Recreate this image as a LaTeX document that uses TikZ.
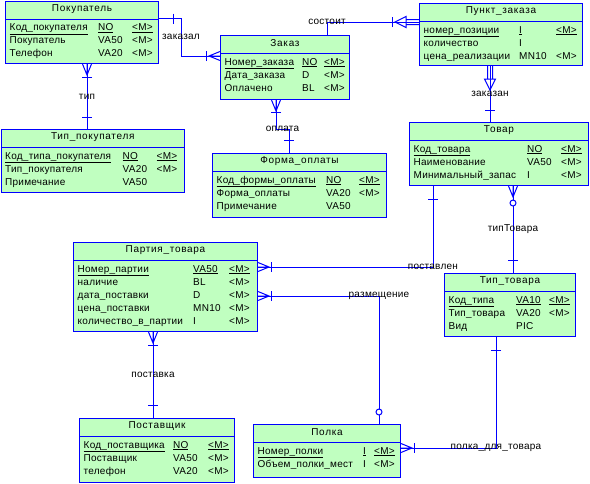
\documentclass[tikz,border=0pt]{standalone}
\usepackage{fontspec}
\setmainfont{Liberation Sans}[LetterSpace=2.5]
\newfontfamily\titlefont[LetterSpace=7]{Liberation Sans}
\definecolor{entfill}{RGB}{192,255,192}
\definecolor{erblue}{RGB}{0,0,255}
\tikzset{
	entity/.style={rectangle, fill=entfill, draw=erblue, line width=1pt, inner sep=0pt, anchor=north west},
	enttitle/.style={inner sep=0pt, font={\titlefont\fontsize{10}{12}\selectfont}},
	attr/.style={inner sep=0pt, anchor=base west, font=\fontsize{10}{12}\selectfont},
	rel/.style={draw=erblue, line width=1pt},
	rellabel/.style={inner sep=0pt, font=\fontsize{10}{12}\selectfont},
	pics/many/.style={code={\draw[rel] (0,-4.5) -- (11,0) -- (0,4.5) (0,0) -- (11,0);}},
	pics/one/.style={code={\draw[rel] (#1,-5) -- (#1,5);}},
	pics/ring/.style={code={\draw[rel, fill=white] (#1,0) circle (3pt);}},
	pics/dep/.style={code={\draw[rel] (0,-2.5) -- (13,-2.5) (0,2.5) -- (13,2.5) (13,-5.5) -- (13,5.5) -- (24,0) -- cycle;}}
}
% entity: name, top left, width, height, title, type column, <M> column, rows
\newcommand{\erentity}[8]{%
	\node[entity, minimum width=#3, minimum height=#4] (#1) at (#2) {};
	\node[enttitle] (#1-title) at ([yshift=-8.5]#1.north) {#5};
	\draw[rel] ([yshift=-18.5]#1.north west) -- ([yshift=-18.5]#1.north east);
	\foreach \eA/\eT/\eM [count=\i] in {#8} {
		\node[attr] (#1-a\i) at ([shift={(4.5,17+13*\i)}]#1.north west) {\eA};
		\node[attr] (#1-t\i) at ([shift={(#6,17+13*\i)}]#1.north west) {\eT};
		\node[attr] (#1-m\i) at ([shift={(#7,17+13*\i)}]#1.north west) {\eM};
	}
}
\begin{document}
\begin{tikzpicture}[x=1pt, y=-1pt]
	\useasboundingbox (0,0) rectangle (590,483);
	% entities
	\erentity{pokup}{5,0.5}{153}{62.5}{Покупатель}{93}{127}{\underline{Код\_покупателя}/\underline{NO}/\underline{<M>}, Покупатель/VA50/<M>, Телефон/VA20/<M>}
	\erentity{tippok}{0.5,129}{183.5}{63}{Тип\_покупателя}{122}{156}{\underline{Код\_типа\_покупателя}/\underline{NO}/\underline{<M>}, Тип\_покупателя/VA20/<M>, Примечание/VA50/{}}
	\erentity{zakaz}{220,35}{129}{64}{Заказ}{82}{104}{\underline{Номер\_заказа}/\underline{NO}/\underline{<M>}, Дата\_заказа/D/<M>, Оплачено/BL/<M>}
	\erentity{punkt}{419,3}{163}{62}{Пункт\_заказа}{100}{137}{\underline{номер\_позиции}/\underline{I}/\underline{<M>}, количество/I/{}, цена\_реализации/MN10/<M>}
	\erentity{forma}{212,153}{174}{64}{Форма\_оплаты}{114}{147}{\underline{Код\_формы\_оплаты}/\underline{NO}/\underline{<M>}, Форма\_оплаты/VA20/<M>, Примечание/VA50/{}}
	\erentity{tovar}{409,122}{179}{63}{Товар}{118}{152}{\underline{Код\_товара}/\underline{NO}/\underline{<M>}, Наименование/VA50/<M>, Минимальный\_запас/I/<M>}
	\erentity{partiya}{73,242}{184}{89}{Партия\_товара}{120}{156}{\underline{Номер\_партии}/\underline{VA50}/\underline{<M>}, наличие/BL/<M>, дата\_поставки/D/<M>, цена\_поставки/MN10/<M>, количество\_в\_партии/I/<M>}
	\erentity{tiptov}{444,273}{131}{63}{Тип\_товара}{72}{105}{\underline{Код\_типа}/\underline{VA10}/\underline{<M>}, Тип\_товара/VA20/<M>, Вид/PIC/{}}
	\erentity{postav}{79,418}{155}{64}{Поставщик}{94}{129}{\underline{Код\_поставщика}/\underline{NO}/\underline{<M>}, Поставщик/VA50/<M>, телефон/VA20/<M>}
	\erentity{polka}{253,424}{147}{53}{Полка}{110}{121}{\underline{Номер\_полки}/\underline{I}/\underline{<M>}, Объем\_полки\_мест/I/<M>}
	% заказал
	\coordinate (zkl-s) at ([yshift=-18]pokup.north east);
	\coordinate (zkl-e) at ([yshift=-21]zakaz.north west);
	\draw[rel] (zkl-s) -- ++(22,0) |- node[rellabel, pos=0.25]{заказал} (zkl-e);
	\path (zkl-s) pic{one=14} (zkl-e) pic[rotate=180]{many} pic[rotate=180]{one=14};
	% тип
	\coordinate (tip-s) at ([xshift=82]pokup.south west);
	\coordinate (tip-e) at (tip-s |- tippok.north);
	\draw[rel] (tip-s) -- node[rellabel]{тип} (tip-e);
	\path (tip-s) pic[rotate=-90]{many} pic[rotate=-90]{one=13} (tip-e) pic[rotate=90]{one=12};
	% состоит
	\coordinate (sst-s) at ([xshift=107]zakaz.north west);
	\coordinate (sst-e) at ([yshift=-19]punkt.north west);
	\draw[rel] (sst-s) |- node[rellabel, pos=0.5]{состоит} (sst-e);
	\path (sst-e) pic[rotate=180]{dep} pic[rotate=180]{one=27};
	% заказан
	\coordinate (zkn-s) at ([xshift=71]punkt.south west);
	\coordinate (zkn-e) at (zkn-s |- tovar.north);
	\draw[rel] (zkn-s) -- node[rellabel]{заказан} (zkn-e);
	\path (zkn-s) pic[rotate=-90]{dep} (zkn-e) pic[rotate=90]{one=12};
	% оплата
	\coordinate (opl-s) at ([xshift=56]zakaz.south west);
	\coordinate (opl-e) at ([xshift=77]forma.north west);
	\draw[rel] (opl-s) -- ++(0,29) -| node[rellabel, pos=0.25]{оплата} (opl-e);
	\path (opl-s) pic[rotate=-90]{many} pic[rotate=-90]{one=12} (opl-e) pic[rotate=90]{one=13};
	% типТовара
	\coordinate (ttv-s) at ([xshift=104]tovar.south west);
	\coordinate (ttv-e) at (ttv-s |- tiptov.north);
	\draw[rel] (ttv-s) -- node[rellabel]{типТовара} (ttv-e);
	\path (ttv-s) pic[rotate=-90]{many} pic[rotate=-90]{ring=17} (ttv-e) pic[rotate=90]{one=13};
	% поставлен
	\coordinate (pst-s) at ([xshift=24]tovar.south west);
	\coordinate (pst-e) at ([yshift=-25]partiya.north east);
	\draw[rel] (pst-s) |- node[rellabel, pos=0.5]{поставлен} (pst-e);
	\path (pst-s) pic[rotate=-90]{one=13} (pst-e) pic{many} pic{one=13};
	% размещение
	\coordinate (rzm-s) at ([yshift=-54]partiya.north east);
	\coordinate (rzm-e) at ([xshift=126]polka.north west);
	\draw[rel] (rzm-s) -| node[rellabel, pos=0.5]{размещение} (rzm-e);
	\path (rzm-s) pic{many} pic{one=13} (rzm-e) pic[rotate=90]{ring=12};
	% поставка
	\coordinate (psk-s) at ([xshift=80]partiya.south west);
	\coordinate (psk-e) at (psk-s |- postav.north);
	\draw[rel] (psk-s) -- node[rellabel]{поставка} (psk-e);
	\path (psk-s) pic[rotate=-90]{many} pic[rotate=-90]{one=13} (psk-e) pic[rotate=90]{one=13};
	% полка_для_товара
	\coordinate (pdt-s) at ([xshift=52]tiptov.south west);
	\coordinate (pdt-e) at ([yshift=-24]polka.north east);
	\draw[rel] (pdt-s) |- node[rellabel, pos=0.5]{полка\_для\_товара} (pdt-e);
	\path (pdt-s) pic[rotate=-90]{one=13} (pdt-e) pic{many} pic{one=13};
\end{tikzpicture}
\end{document}
